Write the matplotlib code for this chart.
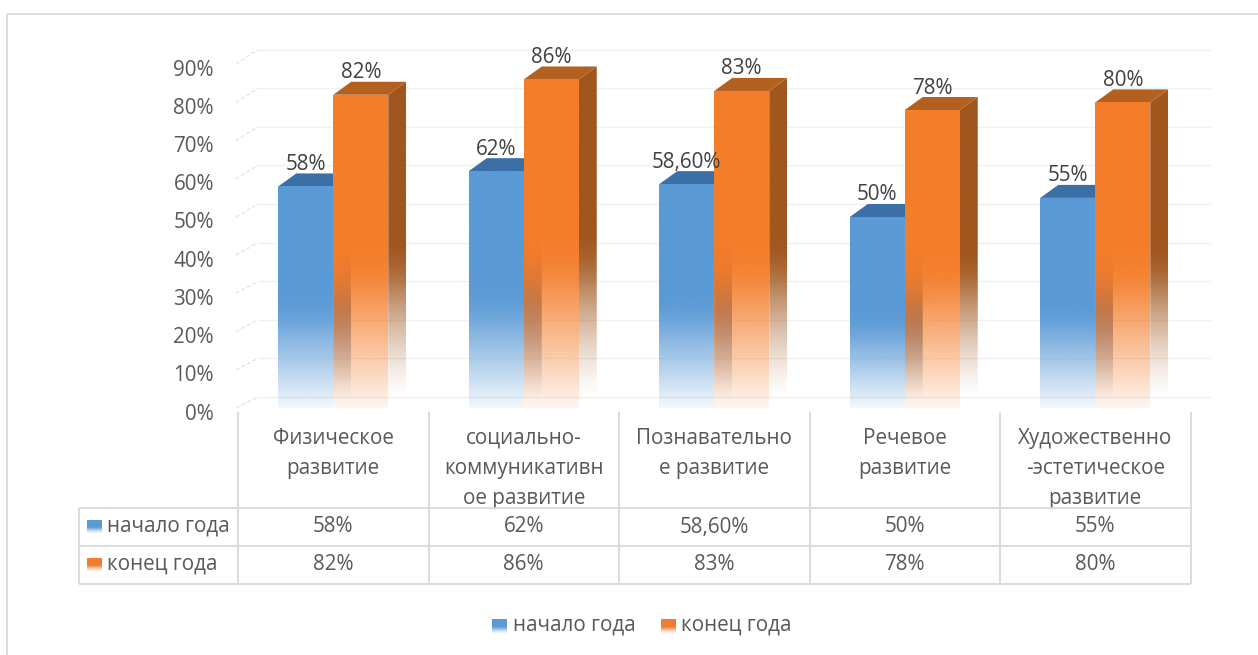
import numpy as np
import matplotlib
matplotlib.use("Agg")
import matplotlib.pyplot as plt
from matplotlib.patches import Polygon
from matplotlib.colors import to_rgb
from matplotlib.transforms import ScaledTranslation

categories = ["Физическое\nразвитие", "социально-\nкоммуникативн\nое развитие",
              "Познавательно\nе развитие", "Речевое\nразвитие",
              "Художественно\n-эстетическое\nразвитие"]
start_year = [58, 62, 58.6, 50, 55]
end_year = [82, 86, 83, 78, 80]
start_labels = ["58%", "62%", "58,60%", "50%", "55%"]
end_labels = ["82%", "86%", "83%", "78%", "80%"]
series_names = ["начало года", "конец года"]
y_ticks = [0, 10, 20, 30, 40, 50, 60, 70, 80, 90]

W, H = 1258, 655
FS = 14.9
TXT = "#595959"
GRID = "#d9d9d9"
plt.rcParams["font.family"] = ["Open Sans", "DejaVu Sans"]

fig = plt.figure(figsize=(W / 100, H / 100), dpi=100, facecolor="white")

# main chart axes: front plane of the 3-D box
PX_PER_UNIT = 3.82
left, right, base = 238, 1190.5, 408
ax = fig.add_axes([left / W, (H - base) / H, (right - left) / W, 100 * PX_PER_UNIT / H])
ax.patch.set_alpha(0)
for s in ax.spines.values():
    s.set_visible(False)
XLIM, YLIM = (-0.5, 4.5), (0, 100)
COL = right - left
cat_w = COL / 5


def dxp(px):
    return px / cat_w


def dyp(px):
    return px / PX_PER_UNIT


# back wall gridlines and dashed side-wall lines
for v in y_ticks:
    yb = v * 1.0105 + dyp(11)
    ax.plot([-0.5 + dxp(20), -0.5 + dxp(972)], [yb, yb], color="#f0f0f0", lw=1.0,
            zorder=1, clip_on=False)
    ax.plot([-0.5 - dxp(2), -0.5 + dxp(20)], [v, yb], color="#e2e2e2", lw=0.9,
            ls=(0, (3, 2)), zorder=1, clip_on=False)

BAR_W = 55 / cat_w
DX, DY = dxp(18), dyp(13)
FADE = 0.52


def ease(t):
    s = np.where(t < 0.7, t, 0.7 + (t - 0.7) - (t - 0.7) ** 2 / 0.6)
    return s / 0.85


def face(pts, value, color, shift, floor, z, power=1.0):
    """Paint a polygon with the white fade towards the base of the bar."""
    pts = np.array(pts)
    ys = np.linspace(0, value + DY + 1, 400)
    t = np.clip((ys - shift) / (FADE * value), 0, 1)
    alpha = floor + (1 - floor) * ease(t) ** power
    rgba = np.ones((400, 1, 4))
    rgba[:, 0, :3] = to_rgb(color)
    rgba[:, 0, 3] = alpha
    im = ax.imshow(rgba, origin="lower", aspect="auto", interpolation="bilinear",
                   extent=(pts[:, 0].min(), pts[:, 0].max(), 0, value + DY + 1), zorder=z)
    clip = Polygon(pts, closed=True, transform=ax.transData)
    im.set_clip_path(clip)
    im.set_clip_on(True)


def bar3d(x0, value, front, side, top, z):
    x1 = x0 + BAR_W
    face([(x1, 0), (x1 + DX, DY), (x1 + DX, value + DY), (x1, value)], value, side,
         DY * 0.6, 0.0, z, power=1.4)
    face([(x0, value), (x1, value), (x1 + DX, value + DY), (x0 + DX, value + DY)],
         value, top, 0, 0.07, z + 0.1)
    face([(x0, 0), (x1, 0), (x1, value), (x0, value)], value, front, 0, 0.07, z + 0.2)


for i, (a, b) in enumerate(zip(start_year, end_year)):
    bar3d(i - BAR_W, a, "#5a9ad6", "#2f6296", "#3c6fa6", 3 + i * 0.001)
    bar3d(i, b, "#f47d2a", "#a0561d", "#b4601f", 4 + i * 0.001)

for i, (a, b, la, lb) in enumerate(zip(start_year, end_year, start_labels, end_labels)):
    for x, v, lab in ((i - BAR_W / 2, a, la), (i + BAR_W / 2, b, lb)):
        ax.annotate(lab, (x, v), xytext=(0, 22 * 0.72), textcoords="offset points",
                    ha="center", va="center", fontsize=FS, color="#404040", zorder=8)

ax.set_xlim(*XLIM)
ax.set_ylim(*YLIM)
ax.set_xticks(range(5))
ax.set_xticklabels(categories, fontsize=FS, color=TXT, linespacing=1.55, va="top")
ax.set_yticks(y_ticks)
ax.set_yticklabels([f"{v}%" for v in y_ticks], fontsize=FS, color=TXT)
ax.tick_params(axis="both", length=0)
ax.tick_params(axis="y", pad=24 * 0.72)
ax.tick_params(axis="x", pad=20 * 0.72)
shift = ScaledTranslation(0, -3.5 / 100, fig.dpi_scale_trans)
for lab in ax.get_yticklabels():
    lab.set_transform(lab.get_transform() + shift)

# overlay in figure pixels: frame, data table, legend
ov = fig.add_axes([0, 0, 1, 1], zorder=5)
ov.axis("off")
ov.patch.set_alpha(0)


def line(xs, ys, lw=1.3):
    ov.plot(xs, ys, color=GRID, lw=lw, solid_capstyle="butt", zorder=2)


line([7, W], [14, 14])
line([7, 7], [14, H])
col_x = [left + cat_w * k for k in range(6)]
rows = [508, 546, 584]
for x in col_x:
    line([x, x], [412, rows[-1]])
for r in rows:
    line([79, right], [r, r])
line([79, 79], [rows[0], rows[-1]])


def swatch(x0, x1, y0, y1, color):
    rgba = np.ones((30, 1, 4))
    rgba[:, 0, :3] = to_rgb(color)
    rgba[:, 0, 3] = np.clip((1 - np.linspace(0, 1, 30)) / 0.45, 0.12, 1)
    ov.imshow(rgba, extent=(x0, x1, y1, y0), origin="upper", aspect="auto",
              interpolation="bilinear", zorder=3)


colors = ["#5b9bd5", "#ed7d31"]
for name, y, c, labels in zip(series_names, (526, 564), colors, (start_labels, end_labels)):
    swatch(87, 102, y - 6, y + 7, c)
    ov.text(107, y, name, fontsize=FS, color=TXT, ha="left", va="center")
    for k, lab in enumerate(labels):
        ov.text(col_x[k] + cat_w / 2, y + 1, lab, fontsize=FS, color=TXT,
                ha="center", va="center")

for name, sx, tx, c in zip(series_names, (492, 661), (513, 681), colors):
    swatch(sx, sx + 15, 619, 633, c)
    ov.text(tx, 625, name, fontsize=FS, color=TXT, ha="left", va="center")

ov.set_xlim(0, W)
ov.set_ylim(H, 0)

fig.savefig("out.png", dpi=100, facecolor="white")
